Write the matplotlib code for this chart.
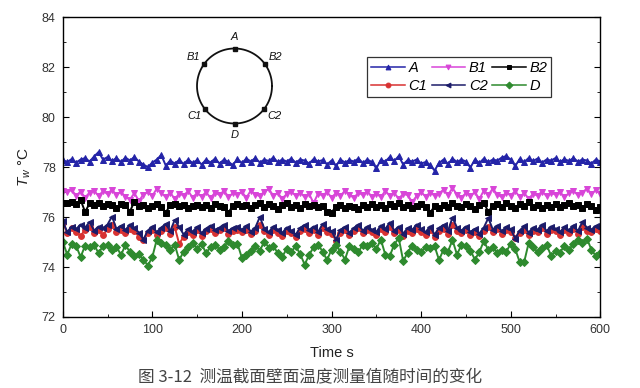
import numpy as np
import matplotlib
matplotlib.use('Agg')
import matplotlib.pyplot as plt

plt.rcParams['font.family'] = ['Liberation Sans', 'DejaVu Sans']
plt.rcParams['mathtext.fontset'] = 'custom'
plt.rcParams['mathtext.it'] = 'Liberation Sans:italic'
plt.rcParams['mathtext.rm'] = 'Liberation Sans'

# time axis, one reading every 5 s
times = list(range(0, 605, 5))

tA = [78.28, 78.20, 78.32, 78.18, 78.30, 78.36, 78.22, 78.42, 78.60, 78.30,
      78.40, 78.24, 78.36, 78.20, 78.38, 78.26, 78.40, 78.22, 78.10, 78.00,
      78.18, 78.30, 78.48, 78.06, 78.26, 78.14, 78.28, 78.12, 78.30, 78.16,
      78.28, 78.10, 78.30, 78.18, 78.34, 78.14, 78.30, 78.20, 78.08, 78.32,
      78.16, 78.34, 78.22, 78.36, 78.18, 78.30, 78.24, 78.38, 78.20, 78.30,
      78.22, 78.34, 78.18, 78.30, 78.26, 78.14, 78.32, 78.22, 78.28, 78.10,
      78.26, 78.04, 78.30, 78.18, 78.28, 78.22, 78.34, 78.16, 78.30, 78.20,
      77.95, 78.28, 78.22, 78.40, 78.24, 78.44, 78.10, 78.28, 78.22, 78.30,
      78.14, 78.20, 78.08, 77.86, 78.16, 78.30, 78.12, 78.34, 78.20, 78.30,
      78.22, 77.98, 78.30, 78.16, 78.34, 78.20, 78.30, 78.26, 78.38, 78.44,
      78.30, 78.04, 78.32, 78.20, 78.36, 78.24, 78.34, 78.18, 78.30, 78.26,
      78.36, 78.20, 78.32, 78.24, 78.36, 78.22, 78.30, 78.26, 78.14, 78.30,
      78.22]

tB1 = [77.05, 77.00, 77.08, 76.86, 77.02, 76.78, 76.98, 77.06, 76.84, 77.04,
       76.92, 77.10, 76.88, 77.02, 76.80, 76.70, 76.96, 76.64, 76.90, 77.00,
       76.84, 77.14, 76.96, 76.80, 76.98, 76.72, 76.94, 76.86, 77.04, 76.78,
       76.96, 76.82, 77.00, 76.76, 76.98, 76.88, 77.06, 76.80, 76.96, 76.90,
       77.00, 76.78, 77.06, 76.90, 76.84, 77.02, 77.12, 76.86, 76.96, 76.74,
       76.92, 77.02, 76.86, 76.98, 76.80, 76.92, 76.56, 76.94, 76.86, 77.00,
       76.78, 76.96, 76.84, 77.06, 76.90, 76.76, 76.98, 76.88, 77.02, 76.82,
       76.94, 76.80, 77.04, 76.86, 76.96, 76.74, 76.92, 76.88, 76.60, 76.84,
       77.00, 76.82, 76.98, 76.86, 76.94, 77.10, 76.88, 77.16, 76.90, 76.78,
       76.96, 76.84, 77.00, 76.72, 77.06, 76.88, 77.14, 76.90, 76.80, 76.98,
       76.86, 77.04, 76.80, 76.96, 76.74, 76.92, 76.86, 77.02, 76.84, 76.96,
       76.90, 77.00, 76.80, 76.96, 77.04, 76.88, 76.98, 77.14, 76.92, 77.08,
       76.94]

tB2 = [76.58, 76.55, 76.60, 76.52, 76.68, 76.20, 76.55, 76.50, 76.58, 76.46,
       76.54, 76.50, 76.36, 76.52, 76.48, 76.22, 76.62, 76.44, 76.50, 76.38,
       76.46, 76.52, 76.40, 76.18, 76.48, 76.54, 76.44, 76.50, 76.36, 76.46,
       76.50, 76.42, 76.48, 76.36, 76.52, 76.44, 76.40, 76.18, 76.46, 76.54,
       76.44, 76.50, 76.38, 76.48, 76.56, 76.40, 76.52, 76.46, 76.34, 76.50,
       76.56, 76.42, 76.48, 76.36, 76.52, 76.44, 76.50, 76.40, 76.46, 76.22,
       76.18, 76.42, 76.50, 76.36, 76.46, 76.40, 76.34, 76.48, 76.42, 76.54,
       76.40, 76.48, 76.36, 76.52, 76.44, 76.58, 76.42, 76.50, 76.38, 76.46,
       76.52, 76.40, 76.16, 76.44, 76.36, 76.50, 76.42, 76.56, 76.46, 76.40,
       76.52, 76.44, 76.34, 76.48, 76.58, 76.20, 76.46, 76.52, 76.40, 76.56,
       76.46, 76.38, 76.52, 76.44, 76.60, 76.40, 76.50, 76.36, 76.48, 76.42,
       76.54, 76.40, 76.48, 76.56, 76.44, 76.50, 76.38, 76.52, 76.46, 76.28,
       76.40]

tC1 = [75.78, 75.38, 75.55, 75.42, 75.24, 75.50, 75.62, 75.36, 75.48, 75.28,
       75.52, 75.70, 75.40, 75.50, 75.36, 75.54, 75.44, 75.22, 75.08, 75.36,
       75.48, 75.30, 75.46, 75.56, 75.34, 75.60, 74.92, 75.22, 75.42, 75.30,
       75.50, 75.26, 75.44, 75.52, 75.36, 75.48, 75.56, 75.34, 75.44, 75.50,
       75.40, 75.50, 75.32, 75.46, 75.70, 75.44, 75.28, 75.50, 75.38, 75.24,
       75.46, 75.36, 75.20, 75.44, 75.54, 75.38, 75.50, 75.30, 75.56, 75.42,
       75.34, 75.06, 75.38, 75.50, 75.28, 75.44, 75.56, 75.36, 75.50, 75.40,
       75.30, 75.52, 75.42, 75.60, 75.36, 75.50, 75.24, 75.44, 75.38, 75.54,
       75.42, 75.30, 75.50, 75.22, 75.44, 75.54, 75.34, 75.70, 75.46, 75.36,
       75.50, 75.30, 75.42, 75.24, 75.46, 75.62, 75.40, 75.52, 75.34, 75.48,
       75.42, 75.18, 75.36, 75.50, 75.28, 75.46, 75.40, 75.56, 75.34, 75.50,
       75.44, 75.30, 75.48, 75.38, 75.52, 75.34, 75.60, 75.46, 75.40, 75.52,
       75.46]

tC2 = [75.85, 75.40, 75.62, 75.52, 75.70, 75.58, 75.80, 75.46, 75.62, 75.55,
       75.70, 76.02, 75.52, 75.64, 75.48, 75.70, 75.56, 75.38, 75.10, 75.46,
       75.62, 75.40, 75.58, 75.72, 75.44, 75.88, 75.60, 75.30, 75.52, 75.42,
       75.60, 75.36, 75.54, 75.66, 75.48, 75.58, 75.70, 75.44, 75.56, 75.62,
       75.50, 75.64, 75.42, 75.58, 76.00, 75.54, 75.40, 75.62, 75.50, 75.36,
       75.58, 75.46, 75.30, 75.56, 75.68, 75.48, 75.62, 75.40, 75.72, 75.52,
       75.44, 75.10, 75.48, 75.60, 75.38, 75.56, 75.70, 75.46, 75.62, 75.50,
       75.40, 75.66, 75.52, 75.78, 75.46, 75.62, 75.34, 75.56, 75.48, 75.70,
       75.52, 75.40, 75.62, 75.30, 75.56, 75.68, 75.44, 75.98, 75.58, 75.46,
       75.62, 75.40, 75.52, 75.34, 75.58, 75.96, 75.50, 75.66, 75.44, 75.60,
       75.52, 75.14, 75.46, 75.64, 75.38, 75.58, 75.50, 75.70, 75.44, 75.62,
       75.54, 75.40, 75.60, 75.48, 75.66, 75.44, 75.80, 75.58, 75.50, 75.64,
       75.58]

tD = [75.02, 74.50, 74.92, 74.84, 74.40, 74.86, 74.80, 74.88, 74.56, 74.84,
      74.90, 74.70, 74.82, 74.48, 74.88, 74.60, 74.44, 74.52, 74.30, 74.06,
      74.40, 75.10, 74.96, 74.88, 74.70, 74.90, 74.28, 74.62, 74.80, 74.96,
      74.74, 74.92, 74.56, 74.80, 74.90, 74.70, 74.82, 75.04, 74.88, 74.94,
      74.36, 74.50, 74.64, 74.84, 74.66, 75.02, 74.78, 74.84, 74.56, 74.40,
      74.74, 74.60, 74.84, 74.52, 74.10, 74.48, 74.80, 74.90, 74.62, 74.28,
      74.70, 74.88, 74.62, 74.30, 74.84, 74.72, 74.60, 74.90, 74.86, 74.96,
      74.72, 75.10, 74.50, 74.44, 74.90, 75.16, 74.24, 74.58, 74.86, 74.70,
      74.62, 74.80, 74.78, 74.84, 74.28, 74.70, 74.62, 75.08, 74.50, 74.88,
      74.84, 74.66, 74.30, 74.60, 75.04, 74.68, 74.80, 74.56, 74.70, 74.60,
      74.94, 74.72, 74.20, 74.20, 74.96, 74.80, 74.60, 74.76, 74.88, 74.46,
      74.64, 74.58, 74.86, 74.70, 74.92, 75.10, 74.98, 75.14, 74.70, 74.44,
      74.56]

labels = ['A', 'B1', 'B2', 'C1', 'C2', 'D']
series = [tA, tB1, tB2, tC1, tC2, tD]
colors = ['#2424a8', '#d845d8', '#000000', '#d83232', '#1c1c6a', '#2e8a2e']
markers = ['^', 'v', 's', 'o', '<', 'D']

# points on the ring sketch (angle in degrees)
ring_names = ['A', 'B1', 'B2', 'C1', 'C2', 'D']
ring_angles = [90, 145, 35, 217, 323, 270]

fig = plt.figure(figsize=(6.4, 3.88), dpi=100)
ax = fig.add_axes([0.098, 0.183, 0.84, 0.773])

lines = {}
for name, vals, c, m in zip(labels, series, colors, markers):
  ms = 3.6 if m == 'D' else 4.2
  l, = ax.plot(times, vals, color=c, marker=m, markersize=ms, linewidth=1.4,
               markeredgewidth=0.7, label=name)
  lines[name] = l

ax.set_xlim(0, 600)
ax.set_ylim(72, 84)
ax.set_xticks(range(0, 601, 100))
ax.set_xticks(range(0, 601, 50), minor=True)
ax.set_yticks(range(72, 85, 2))
ax.set_yticks(range(72, 85, 1), minor=True)
ax.tick_params(which='both', direction='in', right=True, top=False,
               labelsize=9, labelcolor='#333333', pad=5)
ax.tick_params(which='major', length=4)
ax.tick_params(which='minor', length=2.5)
for s in ax.spines.values():
  s.set_linewidth(1.0)

ax.set_xlabel('Time s', fontsize=10.5, color='#222222', labelpad=7)
ax.set_ylabel(r'$T_w$ °C', fontsize=11, color='#222222', labelpad=6)

# legend rows: A B1 B2 / C1 C2 D (filled column by column)
order = ['A', 'C1', 'B1', 'C2', 'B2', 'D']
leg = ax.legend([lines[k] for k in order], order, ncol=3, loc='upper left',
                bbox_to_anchor=(0.566, 0.868), borderaxespad=0,
                fancybox=False, edgecolor='#333333', framealpha=1,
                handlelength=2.3, handletextpad=0.25, columnspacing=0.3,
                labelspacing=0.25, borderpad=0.3,
                prop={'style': 'italic', 'size': 10.5})
leg.get_frame().set_linewidth(0.9)
for h in leg.legend_handles:
  h.set_linewidth(1.1)
  h.set_markersize(3.5)

# ring sketch with the measuring points
ins = fig.add_axes([(234.5 - 60) / 640, (388 - 86 - 60) / 388, 120 / 640, 120 / 388])
ins.set_xlim(-1.6, 1.6)
ins.set_ylim(-1.6, 1.6)
ins.axis('off')
th = np.linspace(0, 2 * np.pi, 200)
ins.plot(np.cos(th), np.sin(th), color='#111111', linewidth=1.3)
for name, ang in zip(ring_names, ring_angles):
  a = np.radians(ang)
  ins.plot(np.cos(a), np.sin(a), 's', color='#111111', markersize=2.2)
  r = 1.3 if ang in (90, 270) else 1.33
  ins.text(r * np.cos(a), r * np.sin(a), name, ha='center', va='center',
           fontsize=8, style='italic', color='#111111')

fig.text(0.484, 0.005, '图 3-12  测温截面壁面温度测量值随时间的变化', ha='center', va='bottom',
         fontsize=12, color='#444444', family=['Noto Sans CJK SC', 'DejaVu Sans'])

fig.savefig('out.png', dpi=100)
